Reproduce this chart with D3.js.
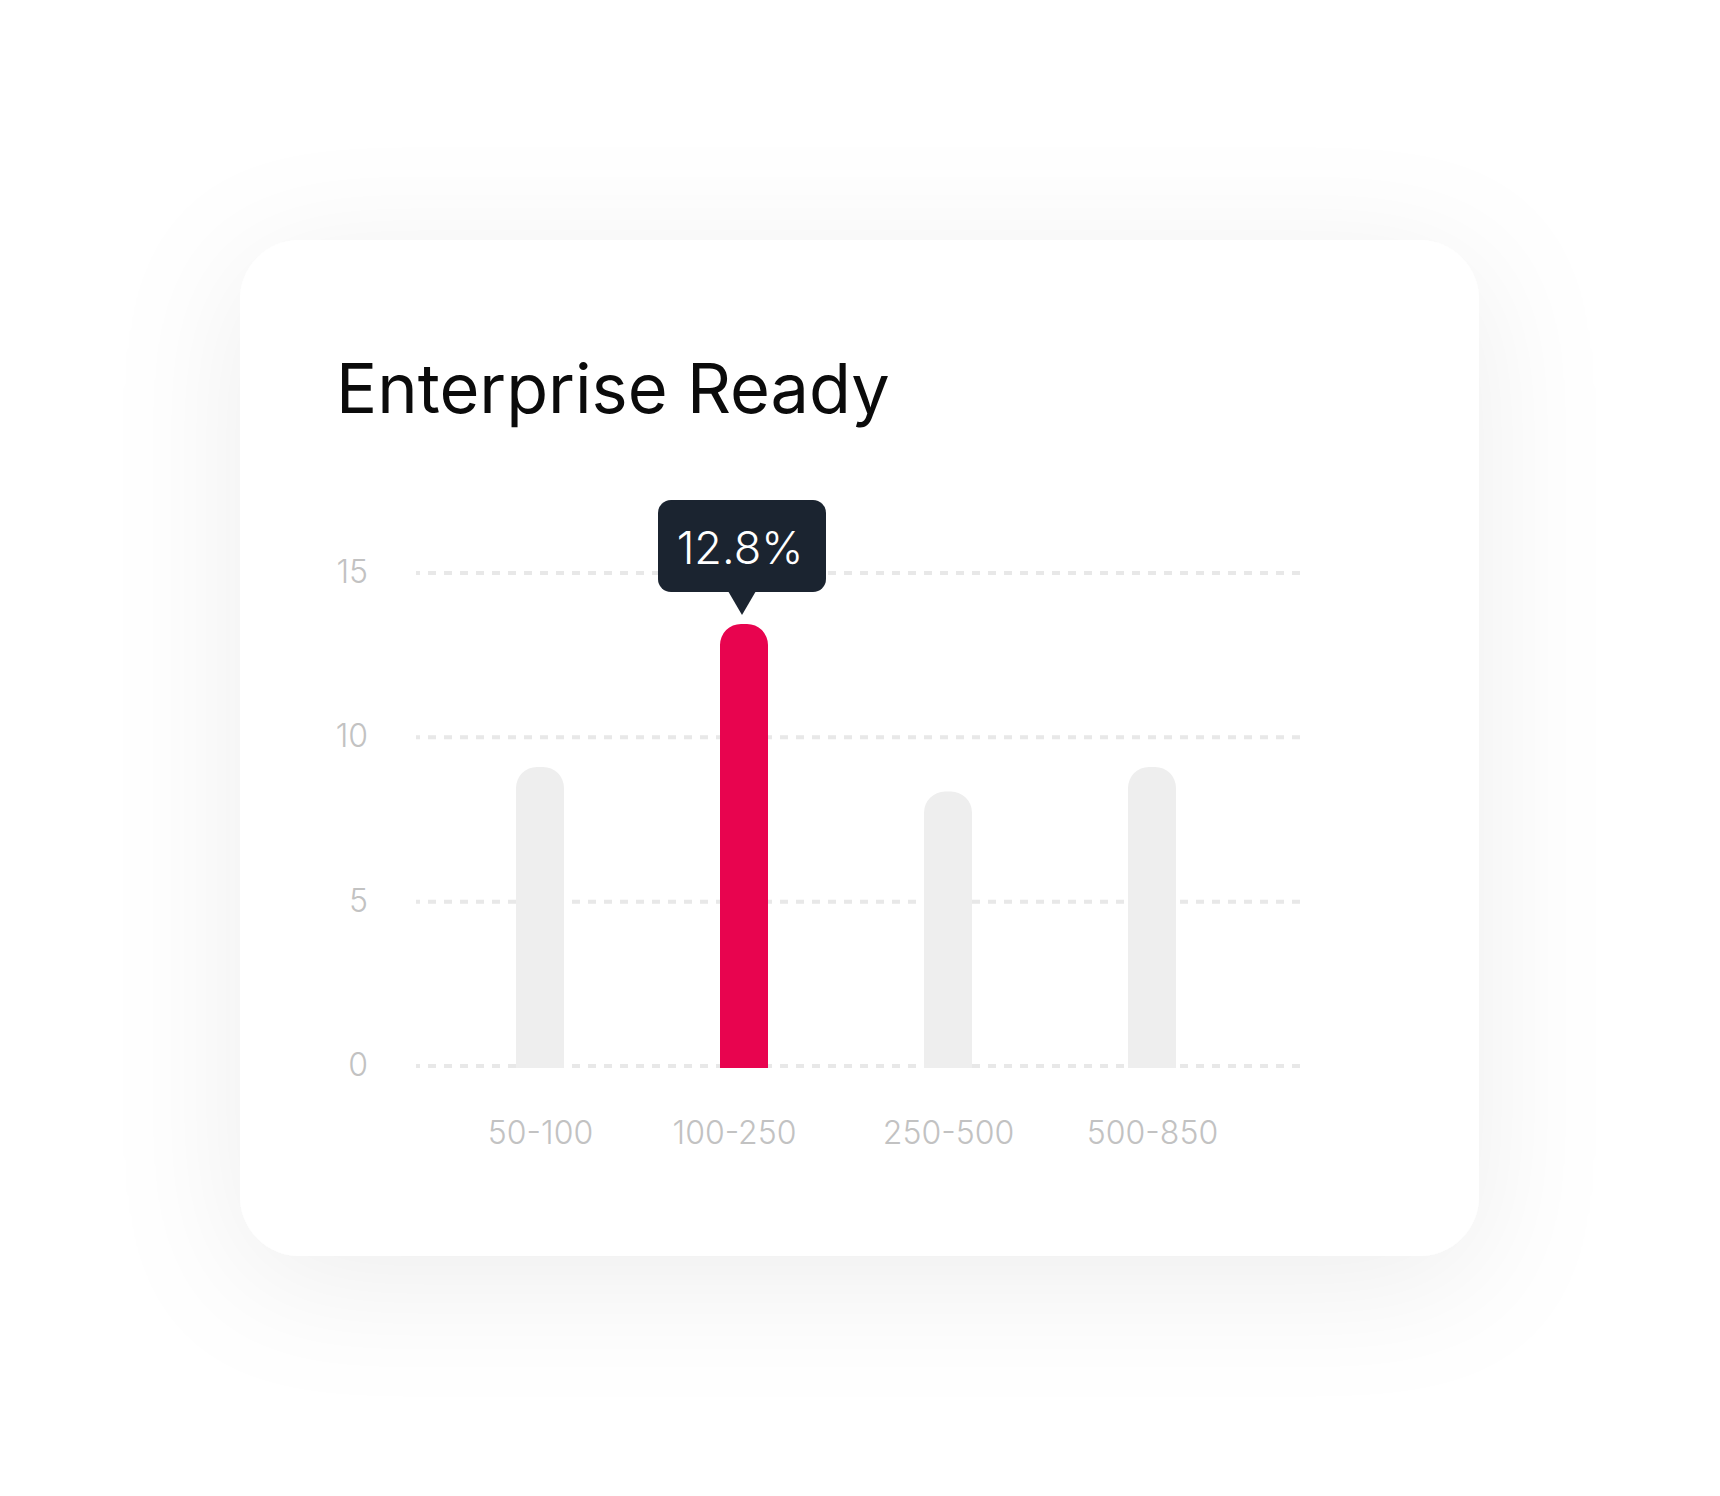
<!DOCTYPE html>
<html>
<head>
<meta charset="utf-8">
<script src="https://cdn.jsdelivr.net/npm/d3@7"></script>
<style>
  html, body { margin: 0; padding: 0; background: #ffffff; }
  svg { display: block; }
</style>
</head>
<body>
<div id="chart"></div>
<script>
var categories = ["50-100", "100-250", "250-500", "500-850"];
var values = [9.1, 13.45, 8.35, 9.1];
var highlight = "100-250";
var tooltipLabel = "12.8%";
var yTicks = [0, 5, 10, 15];

var W = 1720, H = 1496;
var font = "Inter, 'Noto Sans', sans-serif";

var svg = d3.select("#chart")
  .append("svg")
    .attr("width", W)
    .attr("height", H);

var defs = svg.append("defs");
var shadow = defs.append("filter")
  .attr("id", "card-shadow")
  .attr("x", "-40%").attr("y", "-40%")
  .attr("width", "180%").attr("height", "180%");
shadow.append("feDropShadow")
  .attr("dx", 0)
  .attr("dy", 24)
  .attr("stdDeviation", 66)
  .attr("flood-color", "#000")
  .attr("flood-opacity", 0.07);

// card
svg.append("rect")
  .attr("x", 240)
  .attr("y", 240)
  .attr("width", 1239)
  .attr("height", 1016)
  .attr("rx", 60)
  .attr("fill", "#fff")
  .attr("filter", "url(#card-shadow)");

svg.append("text")
  .text("Enterprise Ready")
  .attr("x", 336)
  .attr("y", 413)
  .style("font-family", font)
  .style("font-size", "68.5px")
  .style("font-weight", 400)
  .style("fill", "#0b0b0b");

// scales
var y = d3.scaleLinear().domain([0, 15]).range([1066, 573]);
var x = d3.scalePoint().domain(categories).range([540, 1152]);
var gridX0 = 416, gridX1 = 1305;
var barW = 48, r = 21;

// grid
svg.append("g").selectAll("line")
  .data(yTicks)
  .enter().append("line")
    .attr("x1", gridX0)
    .attr("x2", gridX1)
    .attr("y1", function(d) { return y(d); })
    .attr("y2", function(d) { return y(d); })
    .attr("stroke", "#e8e8e8")
    .attr("stroke-width", 4)
    .attr("stroke-dasharray", "8 8")
    .attr("stroke-dashoffset", 4);

// y axis labels
var yAxis = svg.append("g")
  .attr("transform", "translate(368,0)")
  .call(d3.axisLeft(y).tickValues(yTicks).tickSize(0).tickPadding(0));
yAxis.select(".domain").remove();
yAxis.selectAll("text")
  .attr("x", 0)
  .attr("dy", "0.3em")
  .style("font-family", font)
  .style("font-size", "32px")
  .style("font-weight", 300)
  .style("fill", "#c2c2c2");

// x axis labels
var xAxis = svg.append("g")
  .attr("transform", "translate(0,1144)")
  .call(d3.axisBottom(x).tickSize(0).tickPadding(0));
xAxis.select(".domain").remove();
xAxis.selectAll("text")
  .attr("y", 0)
  .attr("dy", 0)
  .attr("dx", function(d) { return d == highlight ? -10 : 0; })
  .style("font-family", font)
  .style("font-size", "32px")
  .style("font-weight", 300)
  .style("fill", "#c2c2c2");

// bars with rounded tops
function barPath(cx, top, bottom) {
  var x0 = cx - barW / 2, x1 = cx + barW / 2;
  return "M" + x0 + "," + bottom +
    "L" + x0 + "," + (top + r) +
    "A" + r + "," + r + " 0 0 1 " + (x0 + r) + "," + top +
    "L" + (x1 - r) + "," + top +
    "A" + r + "," + r + " 0 0 1 " + x1 + "," + (top + r) +
    "L" + x1 + "," + bottom + "Z";
}

svg.append("g").selectAll("path")
  .data(categories)
  .enter().append("path")
    .attr("d", function(d, i) { return barPath(x(d), y(values[i]), y(0) + 2); })
    .attr("fill", function(d) { return d == highlight ? "#e8044f" : "#eeeeee"; });

// tooltip
var hi = categories.indexOf(highlight);
var tipCx = x(highlight) - 2;
var tipBottom = y(values[hi]) - 32;
var tipW = 168, tipH = 92;
var tip = svg.append("g");
tip.append("rect")
  .attr("x", tipCx - tipW / 2)
  .attr("y", tipBottom - tipH)
  .attr("width", tipW)
  .attr("height", tipH)
  .attr("rx", 13)
  .attr("fill", "#1b2430");
tip.append("path")
  .attr("d", "M" + (tipCx - 14) + "," + (tipBottom - 1) +
    "L" + (tipCx + 14) + "," + (tipBottom - 1) +
    "L" + tipCx + "," + (tipBottom + 23) + "Z")
  .attr("fill", "#1b2430");
tip.append("text")
  .text(tooltipLabel)
  .attr("x", tipCx - 2)
  .attr("y", tipBottom - 28)
  .attr("text-anchor", "middle")
  .style("font-family", font)
  .style("font-size", "45px")
  .style("font-weight", 300)
  .style("fill", "#fff");
</script>
</body>
</html>
